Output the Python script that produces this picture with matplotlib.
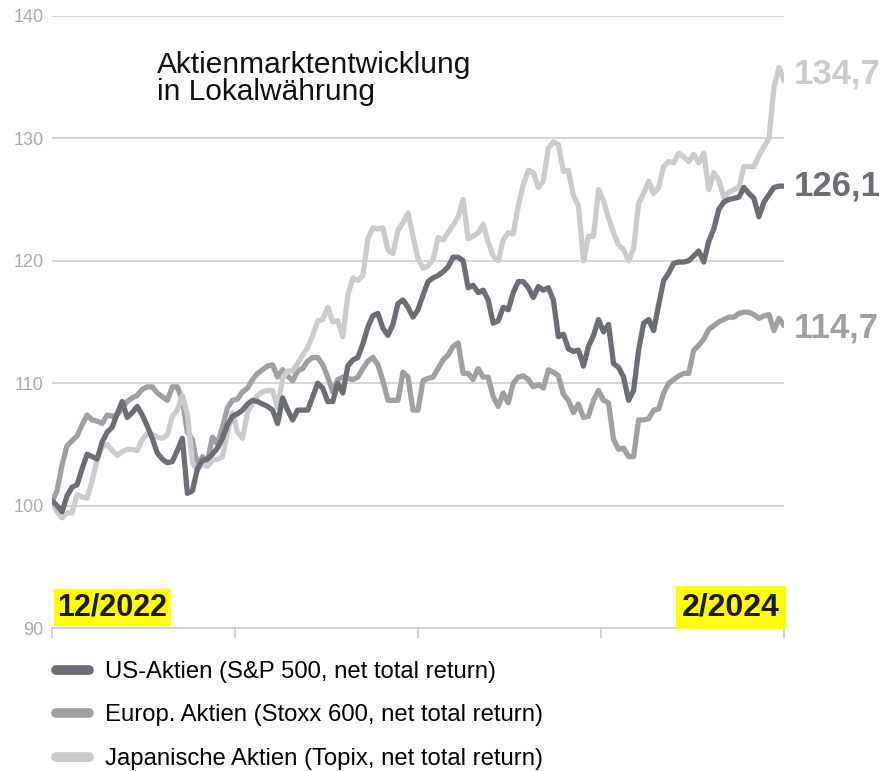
import numpy as np
import pandas as pd
import matplotlib
matplotlib.use("Agg")
import matplotlib.pyplot as plt

plt.rcParams['font.family'] = ['Liberation Sans', 'DejaVu Sans']

# Indexwerte (Start = 100)
us = [100.4, 100.0, 99.5, 100.8, 101.5, 101.7, 103.0, 104.2, 104.0, 103.8,
      105.2, 106.0, 106.4, 107.5, 108.5, 107.2, 107.6, 108.1, 107.4, 106.5,
      105.5, 104.3, 103.8, 103.5, 103.6, 104.5, 105.5, 101.0, 101.2, 103.0,
      103.7, 103.8, 104.2, 104.7, 105.5, 106.6, 107.3, 107.5, 107.8, 108.3,
      108.6, 108.5, 108.3, 108.1, 107.8, 106.7, 108.8, 107.8, 107.0, 107.8,
      107.8, 107.8, 108.9, 110.0, 109.6, 108.5, 108.5, 110.0, 109.2, 111.4,
      111.9, 112.1, 113.2, 114.6, 115.5, 115.7, 114.5, 113.9, 114.8, 116.5,
      116.8, 116.2, 115.4, 116.0, 117.2, 118.3, 118.6, 118.8, 119.1, 119.5,
      120.3, 120.3, 120.0, 117.8, 118.0, 117.4, 117.6, 116.8, 114.9, 115.1,
      116.2, 116.0, 117.4, 118.3, 118.3, 117.8, 117.0, 117.9, 117.6, 117.8,
      116.8, 113.8, 114.0, 112.8, 112.6, 112.7, 111.4, 113.0, 113.9, 115.2,
      114.2, 114.8, 111.6, 111.3, 110.5, 108.6, 109.4, 112.7, 114.9, 115.2,
      114.3, 116.4, 118.4, 119.0, 119.8, 119.9, 119.9, 120.0, 120.4, 120.8,
      119.9, 121.6, 122.6, 124.2, 124.8, 125.0, 125.1, 125.2, 126.0, 125.5,
      125.1, 123.6, 124.8, 125.4, 126.0, 126.1, 126.1]

europe = [100.3, 101.2, 103.3, 104.9, 105.3, 105.7, 106.6, 107.4, 107.0, 106.9,
          106.7, 107.4, 107.3, 107.4, 108.0, 108.5, 108.8, 109.0, 109.5, 109.7,
          109.7, 109.2, 108.9, 108.6, 109.7, 109.7, 108.6, 106.0, 105.4, 103.2,
          104.0, 103.6, 105.6, 105.0, 106.4, 108.0, 108.6, 108.7, 109.3, 109.6,
          110.3, 110.8, 111.1, 111.4, 111.5, 110.5, 111.1, 110.6, 110.2, 111.0,
          111.2, 111.8, 112.1, 112.1, 111.5, 110.5, 109.3, 110.3, 110.5, 110.4,
          110.3, 110.5, 111.2, 111.8, 112.1, 111.5, 110.2, 108.6, 108.6, 108.6,
          110.9, 110.5, 107.8, 107.8, 110.2, 110.4, 110.5, 111.2, 111.9, 112.3,
          113.0, 113.3, 110.8, 110.8, 110.3, 111.2, 110.5, 110.5, 108.9, 108.1,
          109.2, 108.4, 110.0, 110.5, 110.6, 110.3, 109.7, 109.9, 109.6, 111.1,
          110.9, 110.6, 109.1, 108.6, 107.6, 108.3, 107.2, 107.3, 108.6, 109.4,
          108.6, 108.4, 105.4, 104.6, 104.7, 104.0, 104.0, 107.0, 107.0, 107.1,
          107.8, 107.9, 109.2, 110.0, 110.3, 110.6, 110.8, 110.8, 112.7, 113.1,
          113.6, 114.4, 114.7, 115.0, 115.2, 115.4, 115.4, 115.7, 115.8, 115.8,
          115.6, 115.3, 115.5, 115.6, 114.3, 115.3, 114.7]

japan = [100.3, 99.5, 99.0, 99.4, 99.4, 100.9, 100.7, 100.6, 102.0, 103.8,
         104.8, 105.0, 104.5, 104.1, 104.4, 104.6, 104.6, 104.5, 105.4, 105.9,
         105.8, 105.6, 105.5, 105.8, 107.3, 107.8, 109.0, 107.5, 103.5, 102.9,
         103.4, 103.2, 103.7, 103.8, 104.0, 106.0, 107.6, 106.0, 105.5, 107.6,
         108.4, 109.0, 109.3, 109.4, 109.4, 108.0, 110.4, 111.0, 111.0, 111.6,
         112.3, 112.9, 113.9, 115.1, 115.2, 116.2, 115.0, 115.1, 113.8, 117.2,
         118.6, 118.4, 118.8, 121.8, 122.7, 122.6, 122.7, 120.9, 120.6, 122.5,
         123.1, 123.9, 122.0, 120.2, 119.4, 119.6, 120.1, 121.9, 121.7, 122.3,
         122.9, 123.6, 125.0, 121.8, 122.0, 122.3, 123.0, 121.5, 120.4, 120.0,
         121.7, 122.3, 122.2, 124.5, 126.2, 127.4, 127.2, 126.0, 126.5, 129.2,
         129.7, 129.5, 127.3, 127.4, 125.3, 124.5, 120.0, 122.0, 122.0, 125.8,
         124.9, 123.5, 122.3, 121.3, 120.9, 120.0, 121.0, 124.7, 125.5, 126.5,
         125.5, 126.0, 127.7, 128.1, 128.0, 128.8, 128.5, 128.1, 128.7, 128.0,
         128.8, 125.8, 127.2, 126.6, 125.2, 125.6, 125.8, 126.0, 127.7, 127.7,
         127.7, 128.6, 129.3, 130.0, 134.2, 135.8, 134.7]

labels = ['US-Aktien (S&P 500, net total return)',
          'Europ. Aktien (Stoxx 600, net total return)',
          'Japanische Aktien (Topix, net total return)']
end_labels = ['126,1', '114,7', '134,7']
colors = ['#6b6e75', '#a09fa3', '#cbcbcd']

dates = pd.date_range('2022-12-30', '2024-02-29', periods=len(us))
tick_dates = pd.date_range(dates[0], dates[-1], periods=5)

fig = plt.figure(figsize=(8.81, 7.71), dpi=100)
ax = fig.add_axes([52/881, 1 - 628/771, 732/881, 612/771])

series = [us, europe, japan]
zorders = [5, 3, 4]
for vals, lab, col, z in zip(series, labels, colors, zorders):
    ax.plot(dates, vals, color=col, lw=3.8, label=lab, zorder=z,
            solid_joinstyle='round', solid_capstyle='round')

# Endwerte rechts neben den Linien
label_dy = [0, -2, 5]
for vals, txt, col, dy in zip(series, end_labels, colors, label_dy):
    ax.annotate(txt, xy=(dates[-1], vals[-1]), xytext=(7, dy),
                textcoords='offset points', va='center', ha='left',
                fontsize=25, fontweight='bold', color=col, annotation_clip=False)

ax.set_ylim(90, 140)
ax.set_xlim(dates[0], dates[-1])
ax.set_yticks([90, 100, 110, 120, 130, 140])
ax.grid(axis='y', color='#cccccc', lw=1.1)
ax.set_axisbelow(True)
for s in ['left', 'right', 'top']:
    ax.spines[s].set_visible(False)
ax.spines['bottom'].set_color('#cccccc')
ax.spines['bottom'].set_linewidth(1.2)
ax.set_xticks(tick_dates)
ax.set_xticklabels([])
ax.tick_params(axis='x', length=7, width=1.2, color='#cccccc', direction='out')
ax.tick_params(axis='y', length=0, pad=6, labelsize=13, labelcolor='#ababab')

# Titel
fig.text(157/881, 1 - 51/771, 'Aktienmarktentwicklung\nin Lokalwährung',
         fontsize=21.5, va='top', ha='left', linespacing=0.95, color='#111111')

# Datumsmarken
box = dict(boxstyle='square,pad=0.12', fc='#ffff00', ec='none')
ax.annotate('12/2022', xy=(dates[0], 90), xytext=(4, 9), textcoords='offset points',
            ha='left', va='baseline', fontsize=22, fontweight='bold',
            color='#1a1a1a', bbox=box)
ax.annotate('2/2024', xy=(dates[-1], 90), xytext=(-3, 9), textcoords='offset points',
            ha='right', va='baseline', fontsize=23, fontweight='bold',
            color='#1a1a1a', bbox=dict(boxstyle='square,pad=0.2', fc='#ffff00', ec='none'))

leg = ax.legend(loc='upper left', bbox_to_anchor=(56/881, 1 - 661/771),
                bbox_transform=fig.transFigure, frameon=False, fontsize=17.2,
                handlelength=1.4, handletextpad=0.65, labelspacing=0.9,
                borderpad=0, borderaxespad=0)
for h in leg.legend_handles:
    h.set_linewidth(7)
    h.set_solid_capstyle('round')

fig.savefig('out.png', dpi=100)
